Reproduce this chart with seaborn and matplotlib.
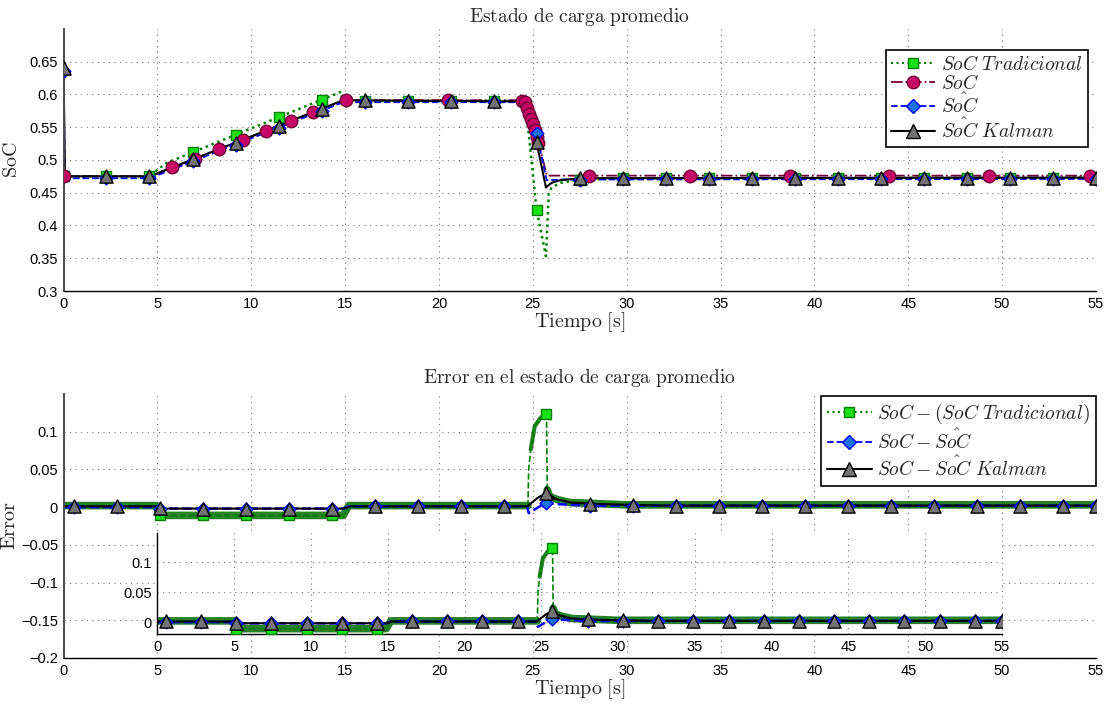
import numpy as np
import matplotlib
matplotlib.use('Agg')
import matplotlib.pyplot as plt
import seaborn as sns
from matplotlib.lines import Line2D
from matplotlib.ticker import FuncFormatter

# ---- top panel: average state of charge ----
t_trad = [0, 4.6, 5.0, 5.5, 14.8, 14.85, 24.6, 25.2, 25.7, 25.85, 26.0, 26.5, 27.5, 30, 55]
soc_trad = [0.475, 0.475, 0.485, 0.4955, 0.604, 0.59, 0.59, 0.424, 0.353, 0.448, 0.458, 0.465, 0.47, 0.472, 0.473]

t_soc = [0, 4.6, 14.95, 24.4, 24.6, 24.75, 24.9, 25.05, 25.2, 25.35, 25.75, 55]
soc_true = [0.475, 0.475, 0.591, 0.591, 0.588, 0.575, 0.562, 0.55, 0.535, 0.522, 0.476, 0.476]

t_hat = [0, 0.08, 4.6, 14.9, 24.8, 25.2, 25.74, 26.5, 55]
soc_hat = [0.635, 0.472, 0.472, 0.588, 0.588, 0.541, 0.469, 0.47, 0.471]

t_kal = [0, 0.08, 4.6, 14.9, 24.8, 25.2, 25.7, 26.0, 26.45, 27.5, 55]
soc_kal = [0.64, 0.475, 0.475, 0.591, 0.589, 0.527, 0.458, 0.465, 0.469, 0.472, 0.473]

mk_top = [0, 2.29, 4.58, 6.88, 9.17, 11.46, 13.75, 16.04, 18.33, 20.63, 22.92, 25.2,
          27.5, 29.79, 32.08, 34.38, 36.67, 38.96, 41.25, 43.54, 45.83, 48.13, 50.42, 52.71, 55]
mk_soc = [0, 5.8, 7.0, 8.3, 9.55, 10.8, 12.1, 13.3, 15.05, 20.5, 24.45, 24.6, 24.7, 24.8,
          24.9, 25.0, 25.1, 25.2, 25.3, 28.0, 33.4, 38.7, 44.0, 49.3, 54.7]

# ---- bottom panel: error ----
t_e_trad = [0, 4.95, 5.1, 14.9, 15.2, 24.74, 24.78, 24.89, 25.1, 25.4, 25.73, 25.77, 25.9, 26.3, 27, 30, 55]
e_trad = [0.002, 0.002, -0.011, -0.011, 0.002, 0.002, 0.05, 0.0765, 0.107, 0.118, 0.124, 0.023, 0.014, 0.01, 0.006, 0.003, 0.003]

t_e_hat = [0, 4.95, 5.1, 14.9, 15.2, 24.7, 24.78, 25.7, 26.2, 28, 55]
e_hat = [0.0, 0.0, -0.002, -0.002, 0.001, 0.001, -0.008, 0.006, 0.004, 0.002, 0.002]

t_e_kal = [0, 4.95, 5.2, 14.9, 15.3, 24.7, 25.0, 25.3, 25.75, 26.2, 27, 28.5, 32, 55]
e_kal = [0.001, 0.001, -0.002, -0.002, 0.001, 0.001, 0.007, 0.013, 0.019, 0.011, 0.006, 0.004, 0.002, 0.002]

mk_err = [0.55, 2.84, 5.13, 7.42, 9.71, 12.0, 14.29, 16.58, 18.87, 21.16, 23.45, 25.72,
          28.03, 30.32, 32.61, 34.9, 37.19, 39.48, 41.77, 44.06, 46.35, 48.64, 50.93, 53.22, 55]
mk_err_trad = [5.13, 7.42, 9.71, 12.0, 14.29, 25.72]

x_ticks = list(range(0, 56, 5))
top_yticks = [0.3, 0.35, 0.4, 0.45, 0.5, 0.55, 0.6, 0.65]
err_yticks = [-0.2, -0.15, -0.1, -0.05, 0, 0.05, 0.1]
inset_yticks = [0, 0.05, 0.1]

GREEN = (0, 0.5, 0)
BAND = (0, 0.42, 0)
LIME = (0.1, 0.88, 0.1)
SOC_LINE = (0.45, 0, 0.22)
SOC_FACE = (0.78, 0.02, 0.4)
BLUE = (0, 0, 1)
DIAM = (0.1, 0.45, 0.9)
GRAY = (0.45, 0.45, 0.45)

sns.set_style('white')
plt.rcParams['font.family'] = ['Liberation Sans', 'DejaVu Sans']
plt.rcParams['mathtext.fontset'] = 'cm'
plt.rcParams['axes.axisbelow'] = True

fmt = FuncFormatter(lambda v, p: ('%g' % v).replace('-', '\u2212'))


def style(ax, yticks, fs=10.5):
    for s in ['top', 'right']:
        ax.spines[s].set_visible(False)
    ax.spines['left'].set_color('0.3')
    ax.spines['left'].set_linewidth(1.4)
    ax.spines['bottom'].set_color('black')
    ax.spines['bottom'].set_linewidth(1.0)
    ax.set_xticks(x_ticks)
    ax.set_yticks(yticks)
    ax.xaxis.set_major_formatter(fmt)
    ax.yaxis.set_major_formatter(fmt)
    ax.tick_params(direction='in', length=7, width=0.9, labelsize=fs, colors='black', pad=4)
    ax.grid(True, color='0.45', linestyle=(0, (1, 4)), linewidth=0.8)


def line(ax, t, y, **kw):
    sns.lineplot(x=t, y=y, ax=ax, estimator=None, sort=False, legend=False, **kw)


def marks(ax, mk, t, y, marker, size, face, edge):
    sns.scatterplot(x=mk, y=np.interp(mk, t, y), ax=ax, marker=marker, s=size ** 2,
                    color=face, edgecolor=edge, linewidth=1.0, legend=False, zorder=5)


fig = plt.figure(figsize=(11.18, 7.05), dpi=100)
ax1 = fig.add_axes([0.0568, 0.5872, 0.9235, 0.372])
ax2 = fig.add_axes([0.0568, 0.0667, 0.9235, 0.3745])
ax3 = fig.add_axes([0.1408, 0.1007, 0.7555, 0.1437], facecolor='white', zorder=3)

# top panel
line(ax1, t_trad, soc_trad, color=GREEN, linestyle=(0, (1, 1.5)), linewidth=1.8)
marks(ax1, mk_top, t_trad, soc_trad, 's', 7, LIME, GREEN)
line(ax1, t_soc, soc_true, color=SOC_LINE, linestyle='-.', linewidth=1.3)
marks(ax1, mk_soc, t_soc, soc_true, 'o', 9, SOC_FACE, SOC_LINE)
line(ax1, t_hat, soc_hat, color=BLUE, linestyle='--', linewidth=1.3)
marks(ax1, mk_top, t_hat, soc_hat, 'D', 6.5, DIAM, BLUE)
line(ax1, t_kal, soc_kal, color='black', linestyle='-', linewidth=1.5)
marks(ax1, mk_top, t_kal, soc_kal, '^', 9.5, GRAY, 'black')
ax1.set_xlim(0, 55)
ax1.set_ylim(0.3, 0.7)
style(ax1, top_yticks)
ax1.set_title(r'$\mathrm{Estado\ de\ carga\ promedio}$', fontsize=14, pad=5)
ax1.set_xlabel(r'$\mathrm{Tiempo\ [s]}$', fontsize=14.5, labelpad=0)
ax1.set_ylabel(r'$\mathrm{SoC}$', fontsize=14.5)
ax1.yaxis.set_label_coords(-0.041, 0.5)

h_top = [
    Line2D([], [], color=GREEN, linestyle=':', lw=1.5, marker='s', ms=7, mfc=LIME, mec=GREEN),
    Line2D([], [], color=SOC_LINE, linestyle='-.', lw=1.3, marker='o', ms=9, mfc=SOC_FACE, mec=SOC_LINE),
    Line2D([], [], color=BLUE, linestyle='--', lw=1.3, marker='D', ms=7, mfc=DIAM, mec=BLUE),
    Line2D([], [], color='black', linestyle='-', lw=1.5, marker='^', ms=9.5, mfc=GRAY, mec='black'),
]
l_top = [r'$SoC\ Tradicional$', r'$SoC$', r'$\hat{SoC}$', r'$\hat{SoC}\ Kalman$']
leg = ax1.legend(h_top, l_top, loc='upper right', bbox_to_anchor=(0.992, 0.92), borderaxespad=0,
                 fontsize=14, fancybox=False, framealpha=1, edgecolor='black', labelspacing=0.0,
                 handlelength=2.3, handletextpad=0.3, borderpad=0.25)
leg.get_frame().set_linewidth(1.2)

# bottom panel and its inset copy; the noisy band is drawn only where the signal is flat
n_rise = t_e_trad.index(24.74)
n_fall = t_e_trad.index(25.77)
for ax in (ax2, ax3):
    line(ax, t_e_trad[:n_rise + 1], e_trad[:n_rise + 1], color=BAND, linestyle='-', linewidth=5.5, alpha=0.85)
    line(ax, t_e_trad[n_fall:], e_trad[n_fall:], color=BAND, linestyle='-', linewidth=5.5, alpha=0.85)
    line(ax, t_e_trad[n_rise + 2:n_fall], e_trad[n_rise + 2:n_fall], color=BAND, linestyle='-', linewidth=3, alpha=0.85)
    line(ax, t_e_trad, e_trad, color=GREEN, linestyle='--', linewidth=1.2)
    marks(ax, mk_err_trad, t_e_trad, e_trad, 's', 7, LIME, GREEN)
    line(ax, t_e_hat, e_hat, color=BLUE, linestyle='--', linewidth=1.8)
    marks(ax, mk_err, t_e_hat, e_hat, 'D', 6.5, DIAM, BLUE)
    line(ax, t_e_kal, e_kal, color='black', linestyle='-', linewidth=1.5)
    marks(ax, mk_err, t_e_kal, e_kal, '^', 9.5, GRAY, 'black')
    ax.set_xlim(0, 55)

ax2.set_ylim(-0.2, 0.15)
style(ax2, err_yticks)
ax2.set_title(r'$\mathrm{Error\ en\ el\ estado\ de\ carga\ promedio}$', fontsize=14, pad=8)
ax2.set_xlabel(r'$\mathrm{Tiempo\ [s]}$', fontsize=14.5, labelpad=0)
ax2.set_ylabel(r'$\mathrm{Error}$', fontsize=14.5)
ax2.yaxis.set_label_coords(-0.043, 0.5)

ax3.set_ylim(-0.02, 0.15)
style(ax3, inset_yticks)
ax3.spines['left'].set_color('black')
ax3.spines['left'].set_linewidth(1.0)
ax3.set_xlabel('')
ax3.set_ylabel('')

h_bot = [
    Line2D([], [], color=GREEN, linestyle=':', lw=1.5, marker='s', ms=7, mfc=LIME, mec=GREEN),
    Line2D([], [], color=BLUE, linestyle='--', lw=1.3, marker='D', ms=7, mfc=DIAM, mec=BLUE),
    Line2D([], [], color='black', linestyle='-', lw=1.5, marker='^', ms=9.5, mfc=GRAY, mec='black'),
]
l_bot = [r'$SoC-(SoC\ Tradicional)$', r'$SoC-\hat{SoC}$', r'$SoC-\hat{SoC}\ Kalman$']
leg2 = ax2.legend(h_bot, l_bot, loc='upper right', bbox_to_anchor=(1.0, 0.992), borderaxespad=0,
                  fontsize=14, fancybox=False, framealpha=1, edgecolor='black', labelspacing=0.12,
                  handlelength=2.3, handletextpad=0.3, borderpad=0.3)
leg2.get_frame().set_linewidth(1.2)
leg2.set_zorder(10)

fig.savefig('out.png', dpi=100)
